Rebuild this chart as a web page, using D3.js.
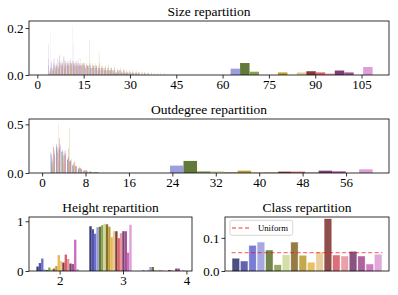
<!DOCTYPE html>
<html>
<head>
  <script src="https://d3js.org/d3.v7.min.js"></script>
  <style>
    body { margin: 0; background: #fff; }
    text { font-family: "Liberation Serif", serif; fill: #000; }
    .title { font-size: 13.5px; }
    .axis text { font-size: 13px; }
    .axis line { stroke: #000; stroke-width: 0.8; }
    .axis path { display: none; }
    .frame { fill: none; stroke: #000; stroke-width: 0.8; }
  </style>
</head>
<body>
  <svg id="chart" width="398" height="295"></svg>
  <script>
    // 18 classes, colours picked from tab20b
    var palette = ['#393b79', '#5254a3', '#6b6ecf', '#9c9ede', '#637939', '#8ca252',
      '#cedb9c', '#8c6d31', '#bd9e39', '#e7ba52', '#e7cb94', '#843c39',
      '#d6616b', '#e7969c', '#7b4173', '#a55194', '#ce6dbd', '#de9ed6'];

    // size repartition: one bin per size 3..46, then one wide bin
    var sizeEdges = [2.5, 3.5, 4.5, 5.5, 6.5, 7.5, 8.5, 9.5, 10.5, 11.5, 12.5, 13.5, 14.5, 15.5,
      16.5, 17.5, 18.5, 19.5, 20.5, 21.5, 22.5, 23.5, 24.5, 25.5, 26.5, 27.5, 28.5, 29.5,
      30.5, 31.5, 32.5, 33.5, 34.5, 35.5, 36.5, 37.5, 38.5, 39.5, 40.5, 41.5, 42.5, 43.5,
      44.5, 45.5, 46.5, 115.5];
    var sizeHist = [
      [0, .04, .06, .04, .07, .05, .08, .04, .06, .05, .06, .04, .05, .03, .04, .03, .04, .02, .03, .02, .03, .02, .02, .01, .02, .01, .01, .01, .01, .01, .01, 0, .01],
      [0, .07, .05, .07, .04, .06, .05, .05, .07, .04, .05, .04, .04, .03, .04, .03, .03, .02, .03, .02, .02, .02, .01, .01, .02, .01, .01, .01, .01, 0, .01],
      [0, .13, .03, .05, .06, .04, .07, .05, .05, .06, .04, .05, .04, .04, .03, .03, .03, .02, .02, .02, .02, .01, .01, .01, .01, .01, .01, 0, .01],
      [0, .02, .03, .03, .04, .05, .06, .04, .05, .13, .05, .04, .05, .03, .04, .03, .04, .03, .02, .03, .02, .02, .02, .01, .02, .01, .01, .01, .01, .01, 0, .01, 0, .01],
      [0, 0, .02, .02, .03, .04, .03, .05, .04, .05, .03, .05, .04, .05, .03, .04, .03, .04, .03, .03, .02, .03, .02, .02, .02, .02, .01, .02, .01, .01, .01, .01, .01, .01, 0, .01, 0, .01],
      [0, .01, .02, .04, .03, .05, .04, .06, .05, .05, .04, .07, .05, .04, .05, .03, .04, .03, .04, .02, .03, .02, .02, .02, .01, .02, .01, .01, .01, .01, .01, 0, .01],
      [0, .02, .03, .03, .05, .04, .05, .04, .05, .06, .04, .05, .04, .08, .04, .05, .03, .04, .03, .03, .02, .03, .02, .02, .01, .02, .01, .01, .01, .01, 0, .01],
      [0, .01, .02, .03, .03, .04, .03, .05, .04, .04, .05, .04, .05, .04, .15, .04, .05, .03, .04, .03, .04, .03, .03, .02, .03, .02, .02, .01, .02, .01, .01, .01, .01, 0, .01],
      [0, 0, .02, .02, .03, .03, .04, .03, .05, .04, .04, .05, .04, .05, .04, .05, .03, .09, .04, .03, .05, .03, .04, .03, .02, .03, .02, .02, .01, .02, .01, .01, .01, .01, .01, 0, .01, 0, .01],
      [0, .02, .03, .04, .04, .05, .04, .06, .05, .04, .06, .04, .05, .04, .05, .04, .04, .05, .03, .04, .02, .03, .02, .02, .01, .02, .01, .01, .01, .01],
      [0, 0, .01, .02, .02, .03, .03, .04, .03, .05, .04, .04, .05, .04, .05, .04, .04, .10, .04, .04, .03, .04, .03, .03, .03, .02, .02, .02, .01, .02, .01, .01, .01, .01, .01, 0, .01, 0, .01, 0, .01],
      [0, .01, .02, .03, .04, .04, .05, .04, .05, .05, .04, .04, .05, .04, .04, .04, .04, .05, .03, .04, .03, .03, .03, .02, .02, .02, .01, .01, .01, .01, .01, .01, 0, .01],
      [0, .03, .04, .04, .09, .05, .04, .05, .05, .04, .05, .04, .04, .04, .05, .03, .04, .03, .03, .02, .02, .02, .02, .01, .01, .01, .01, .01, 0, .01],
      [0, .02, .04, .05, .04, .06, .05, .06, .04, .05, .05, .04, .05, .04, .04, .04, .03, .03, .02, .03, .02, .02, .01, .02, .01, .01, .01, .01, 0, .01],
      [0, .03, .05, .04, .08, .05, .06, .04, .06, .05, .04, .05, .04, .04, .03, .04, .03, .03, .02, .02, .02, .02, .01, .01, .01, .01, .01, 0, .01],
      [0, .02, .03, .04, .05, .04, .06, .05, .06, .04, .07, .04, .05, .04, .04, .03, .04, .03, .03, .02, .02, .02, .01, .02, .01, .01, .01, .01, 0, .01],
      [0, .04, .07, .05, .06, .07, .05, .06, .04, .06, .05, .04, .04, .04, .03, .04, .03, .02, .03, .02, .02, .01, .01, .01, .01, .01, 0, .01],
      [0, .19, .03, .04, .04, .05, .04, .04, .21, .05, .04, .04, .03, .04, .03, .02, .03, .02, .02, .01, .02, .01, .01, .01, 0, .01]
    ];
    var sizeTail = [0, 0, 0, .027, .051, .014, 0, 0, .011, 0, .011, .016, .011, .006, .019, .011, 0, .034];
    var sizeTicks = [0, 15, 30, 45, 60, 75, 90, 105];

    // outdegree repartition: outdegree 1..10, then one wide bin
    var outEdges = [0.5, 1.5, 2.5, 3.5, 4.5, 5.5, 6.5, 7.5, 8.5, 9.5, 10.5, 66.5];
    var outHist = [
      [0, .21, .26, .22, .14, .08, .05, .02, .01, .01],
      [0, .18, .30, .22, .14, .08, .04, .02, .01, .01],
      [0, .20, .28, .24, .13, .07, .04, .02, .01, .01],
      [0, .14, .27, .22, .13, .07, .04, .03, .01, .01],
      [0, .10, .22, .18, .16, .10, .05, .03, .02, .01],
      [0, .15, .24, .22, .17, .10, .05, .03, .02, .01],
      [0, .16, .27, .22, .16, .09, .05, .02, .01, .01],
      [0, .12, .20, .18, .25, .12, .06, .03, .02, .01],
      [0, .06, .12, .10, .46, .12, .07, .03, .01, .01],
      [0, .08, .51, .14, .12, .07, .04, .02, .01, .01],
      [0, .12, .32, .20, .16, .10, .05, .02, .01, .01],
      [0, .27, .25, .18, .12, .07, .05, .03, .01, .01],
      [0, .27, .24, .20, .12, .07, .05, .03, .01, .01],
      [0, .22, .26, .23, .13, .08, .04, .02, .01, 0],
      [0, .18, .36, .18, .12, .07, .04, .02, .01, .01],
      [0, .20, .30, .20, .13, .07, .04, .02, .01, .01],
      [0, .24, .28, .23, .13, .07, .03, .01, .01, 0],
      [0, .16, .27, .23, .15, .07, .03, .02, .01, .01]
    ];
    var outTail = [0, 0, 0, .076, .124, .017, .017, .005, .024, .005, .01, .014, .014, .005, .024, .017, 0, .038];
    var outTicks = [0, 8, 16, 24, 32, 40, 48, 56];

    // height repartition: three bins
    var heightEdges = [1.55, 2.385, 3.22, 4.055];
    var heightHist = [
      [.09, .90, .01], [.16, .84, 0], [.25, .75, .01], [.03, .88, .08], [.02, .89, .08], [.07, .92, .01],
      [.04, .95, .01], [.05, .94, .01], [.10, .89, .01], [.32, .68, 0], [.20, .80, 0], [.17, .80, .02],
      [.33, .66, .01], [.24, .76, 0], [.15, .80, .05], [.14, .80, .05], [.63, .37, 0], [.04, .93, .02]
    ];
    var heightTicks = [2, 3, 4];

    // class repartition
    var classShare = [.037, .029, .076, .086, .062, .018, .048, .086, .046, .025, .056, .157, .047, .044, .058, .044, .020, .049];

    var svg = d3.select('#chart');
    var nClass = palette.length;

    function padRow(vals, n) {
      var out = [];
      for (var k = 0; k < n; k++) out.push(vals[k] || 0);
      return out;
    }

    function panel(o) {
      var w = o.right - o.left, h = o.bottom - o.top;
      var g = svg.append('g').attr('transform', 'translate(' + o.left + ',' + o.top + ')');
      var pad = (o.barMax - o.barMin) * 0.05;
      var x = d3.scaleLinear().domain([o.barMin - pad, o.barMax + pad]).range([0, w]);
      var y = d3.scaleLinear().domain([0, o.yTop]).range([h, 0]);
      svg.append('text').attr('class', 'title')
        .attr('x', o.left + w / 2).attr('y', o.top - 5)
        .attr('text-anchor', 'middle').text(o.title);
      return { g: g, x: x, y: y, w: w, h: h, o: o };
    }

    function axes(p, xTicks, xFmt, yTicks, yFmt) {
      if (xTicks) {
        p.g.append('g').attr('class', 'axis')
          .attr('transform', 'translate(0,' + p.h + ')')
          .call(d3.axisBottom(p.x).tickValues(xTicks).tickFormat(d3.format(xFmt))
            .tickSize(3.5).tickPadding(1.5));
      }
      p.g.append('g').attr('class', 'axis')
        .call(d3.axisLeft(p.y).tickValues(yTicks).tickFormat(d3.format(yFmt))
          .tickSize(3.5).tickPadding(2));
      p.g.append('rect').attr('class', 'frame').attr('width', p.w).attr('height', p.h);
    }

    // grouped histogram, matplotlib style: 18 bars side by side in 80% of each bin
    function groupedHist(p, edges, rows) {
      var bins = edges.slice(0, -1).map(function (e0, k) { return { e0: e0, wd: edges[k + 1] - e0, k: k }; });
      rows.forEach(function (vals, c) {
        p.g.append('g').selectAll('rect').data(bins).join('rect')
          .attr('x', function (b) { return p.x(b.e0 + 0.1 * b.wd + c * 0.8 * b.wd / nClass); })
          .attr('width', function (b) { return p.x(b.e0 + 0.1 * b.wd + (c + 1) * 0.8 * b.wd / nClass) - p.x(b.e0 + 0.1 * b.wd + c * 0.8 * b.wd / nClass); })
          .attr('y', function (b) { return p.y(vals[b.k]); })
          .attr('height', function (b) { return p.y(0) - p.y(vals[b.k]); })
          .attr('fill', palette[c]);
      });
    }

    function histRange(edges) {
      var n = edges.length;
      return [edges[0] + 0.1 * (edges[1] - edges[0]), edges[n - 1] - 0.1 * (edges[n - 1] - edges[n - 2])];
    }

    // Size
    var sr = histRange(sizeEdges);
    var pSize = panel({ left: 29, right: 389, top: 21, bottom: 75, title: 'Size repartition',
      barMin: sr[0], barMax: sr[1], yTop: 0.23 });
    groupedHist(pSize, sizeEdges, sizeHist.map(function (r, c) {
      return padRow(r, sizeEdges.length - 2).concat([sizeTail[c]]);
    }));
    axes(pSize, sizeTicks, 'd', [0, 0.2], '.1f');

    // Outdegree
    var orr = histRange(outEdges);
    var pOut = panel({ left: 29, right: 389, top: 119, bottom: 173, title: 'Outdegree repartition',
      barMin: orr[0], barMax: orr[1], yTop: 0.555 });
    groupedHist(pOut, outEdges, outHist.map(function (r, c) {
      return padRow(r, outEdges.length - 2).concat([outTail[c]]);
    }));
    axes(pOut, outTicks, 'd', [0, 0.5], '.1f');

    // Height
    var hr = histRange(heightEdges);
    var pHeight = panel({ left: 29, right: 192, top: 217, bottom: 271, title: 'Height repartition',
      barMin: hr[0], barMax: hr[1], yTop: 1.086 });
    groupedHist(pHeight, heightEdges, heightHist);
    axes(pHeight, heightTicks, 'd', [0, 1], 'd');

    // Class
    var pClass = panel({ left: 225, right: 389, top: 217, bottom: 271, title: 'Class repartition',
      barMin: -0.4, barMax: nClass - 1 + 0.4, yTop: 0.163 });
    pClass.g.selectAll('.cbar').data(classShare).join('rect')
      .attr('class', 'cbar')
      .attr('x', function (d, i) { return pClass.x(i - 0.4); })
      .attr('width', function (d, i) { return pClass.x(i + 0.4) - pClass.x(i - 0.4); })
      .attr('y', function (d) { return pClass.y(d); })
      .attr('height', function (d) { return pClass.y(0) - pClass.y(d); })
      .attr('fill', function (d, i) { return palette[i]; })
      .attr('fill-opacity', 0.9)
      .attr('stroke', function (d, i) { return palette[i]; })
      .attr('stroke-opacity', 0.4)
      .attr('stroke-width', 0.8);
    var uniform = 1 / nClass;
    pClass.g.append('line')
      .attr('x1', pClass.x(-0.5)).attr('x2', pClass.x(nClass - 0.5))
      .attr('y1', pClass.y(uniform)).attr('y2', pClass.y(uniform))
      .attr('stroke', 'red').attr('stroke-opacity', 0.55)
      .attr('stroke-width', 1.3).attr('stroke-dasharray', '4,2.5');
    axes(pClass, null, null, [0, 0.1], '.1f');

    var leg = pClass.g.append('g').attr('transform', 'translate(5,3.3)');
    leg.append('rect').attr('width', 62.7).attr('height', 15).attr('rx', 2)
      .attr('fill', '#fff').attr('fill-opacity', 0.8)
      .attr('stroke', '#ccc').attr('stroke-width', 0.8);
    leg.append('line').attr('x1', 2).attr('x2', 21.5).attr('y1', 7.7).attr('y2', 7.7)
      .attr('stroke', 'red').attr('stroke-opacity', 0.55)
      .attr('stroke-width', 1.3).attr('stroke-dasharray', '4,2.5');
    leg.append('text').attr('x', 28).attr('y', 10.7)
      .style('font-size', '8.7px').text('Uniform');
  </script>
</body>
</html>
